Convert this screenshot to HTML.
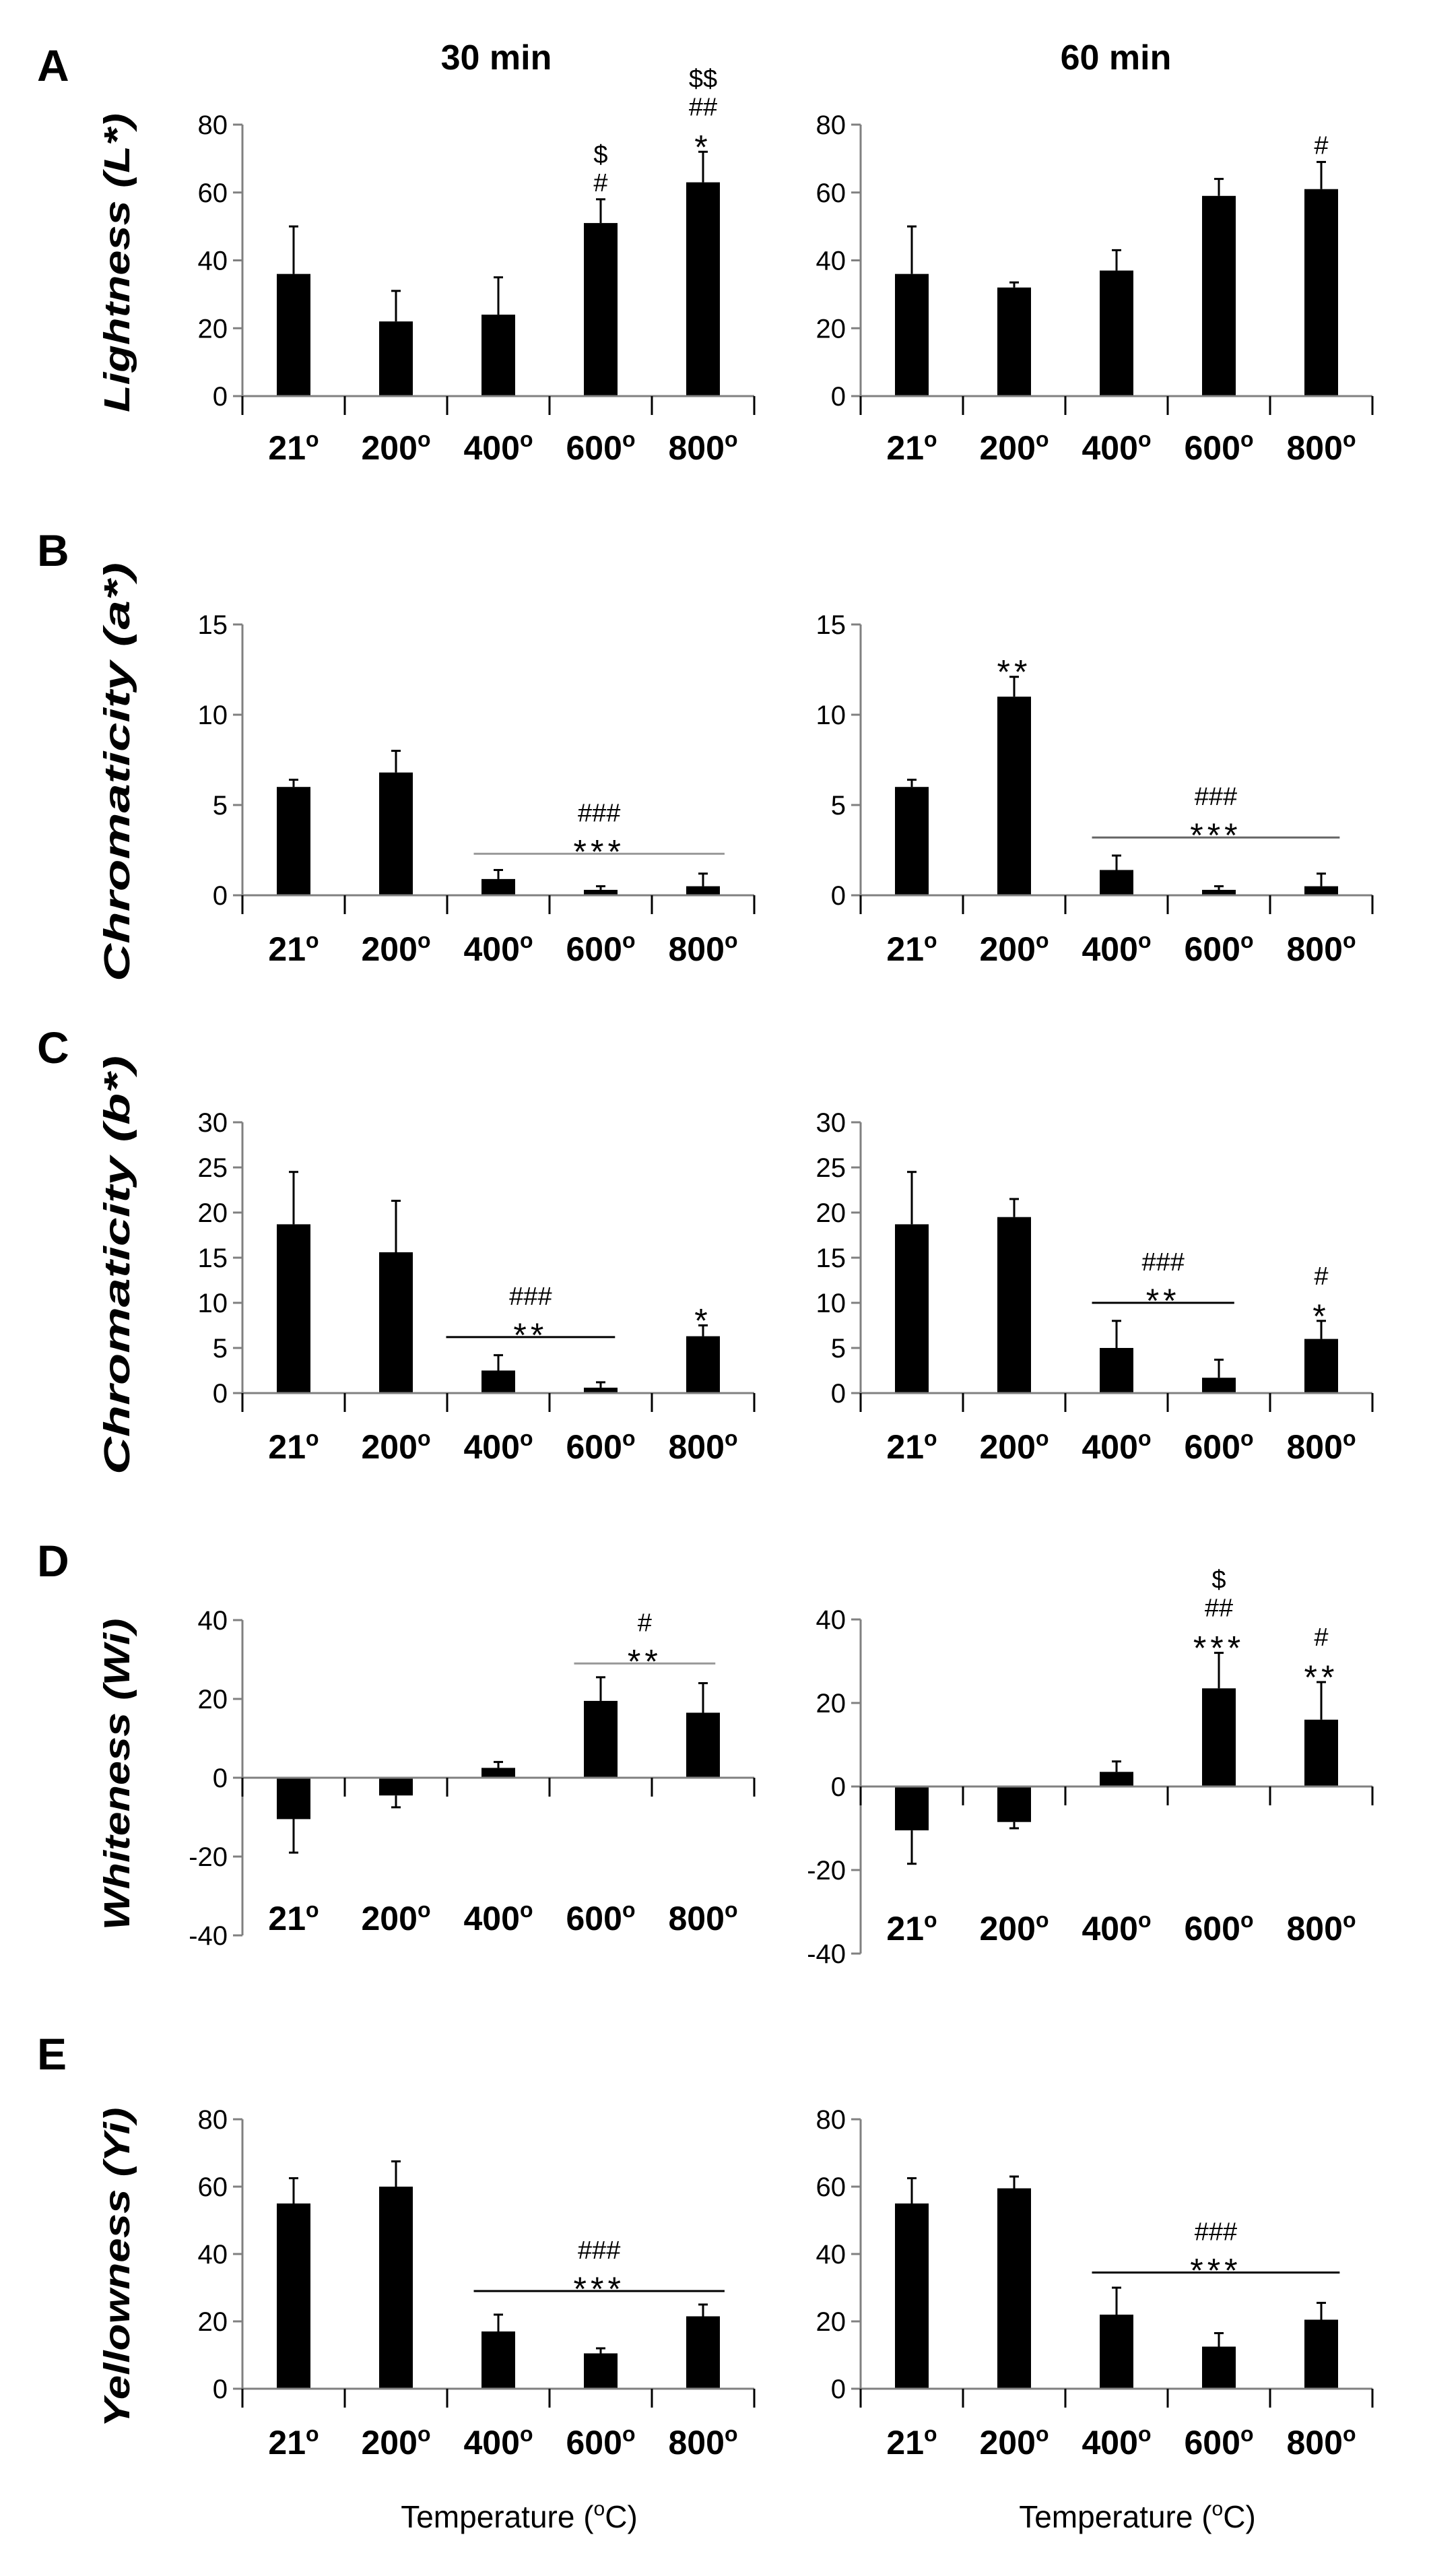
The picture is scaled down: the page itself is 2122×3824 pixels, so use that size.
<!DOCTYPE html>
<html><head><meta charset="utf-8"><title>Colour parameters vs temperature</title>
<style>
html,body{margin:0;padding:0;background:#fff;}
svg{display:block;}
text{font-family:"Liberation Sans",sans-serif;fill:#000;}
</style></head>
<body>
<svg id="fig" width="2122" height="3824" viewBox="0 0 2122 3824"></svg>
<script>
const categories = ["21","200","400","600","800"];
// Panel A
const aLeftVals = [36,22,24,51,63];
const aLeftErr = [50,31,35,58,72];
const aRightVals = [36,32,37,59,61];
const aRightErr = [50,33.5,43,64,69];
// Panel B
const bLeftVals = [6,6.8,0.9,0.3,0.5];
const bLeftErr = [6.4,8,1.4,0.5,1.2];
const bRightVals = [6,11,1.4,0.3,0.5];
const bRightErr = [6.4,12.1,2.2,0.5,1.2];
// Panel C
const cLeftVals = [18.7,15.6,2.5,0.6,6.3];
const cLeftErr = [24.5,21.3,4.2,1.2,7.5];
const cRightVals = [18.7,19.5,5,1.7,6];
const cRightErr = [24.5,21.5,8,3.7,8];
// Panel D
const dLeftVals = [-10.5,-4.5,2.5,19.5,16.5];
const dLeftErr = [-19,-7.5,4,25.5,24];
const dRightVals = [-10.5,-8.5,3.5,23.5,16];
const dRightErr = [-18.5,-10,6,32,25];
// Panel E
const eLeftVals = [55,60,17,10.5,21.5];
const eLeftErr = [62.5,67.5,22,12,25];
const eRightVals = [55,59.5,22,12.5,20.5];
const eRightErr = [62.5,63,30,16.5,25.5];
// tick labels
const ticksA = [0,20,40,60,80];
const ticksB = [0,5,10,15];
const ticksC = [0,5,10,15,20,25,30];
const ticksD = [-40,-20,0,20,40];
const ticksE = [0,20,40,60,80];

const NS="http://www.w3.org/2000/svg";
const svg=document.getElementById('fig');
function mk(tag,attrs,parent){const e=document.createElementNS(NS,tag);for(const k in attrs)e.setAttribute(k,attrs[k]);(parent||svg).appendChild(e);return e;}

function chart(o){
  const g=mk('g',{});
  
  
  const x0=o.x0, step=152, x1=x0+step*5;
  const y=v=>o.yZero-(v/o.unit)*o.pxPerUnit;
  const cx=i=>x0+step*(i+0.5);
  const ya=mk('line',{x1:x0,x2:x0,y1:y(o.ticks[o.ticks.length-1]),y2:y(o.ticks[0]),stroke:'#808080','stroke-width':3},g);
  
  
  o.ticks.forEach(t=>{
    mk('line',{x1:x0-14,x2:x0,y1:y(t),y2:y(t),stroke:'#808080','stroke-width':3},g);
    const tl=mk('text',{x:x0-22,y:y(t)+14,'text-anchor':'end','font-size':40},g);
    tl.textContent=t;
    
    
  });
  o.vals.forEach((v,i)=>{
    const c=cx(i);
    const top=Math.min(y(v),y(0)),h=Math.abs(y(v)-y(0));
    const b=mk('rect',{x:c-25,y:top,width:50,height:h,fill:'#000'},g);
    
    
    const e=o.err[i];
    const eb=mk('line',{x1:c,x2:c,y1:y(v),y2:y(e),stroke:'#000','stroke-width':3},g);
    
    
    mk('line',{x1:c-7,x2:c+7,y1:y(e),y2:y(e),stroke:'#000','stroke-width':3},g);
  });
  const xa=mk('line',{x1:x0,x2:x1,y1:y(0),y2:y(0),stroke:'#808080','stroke-width':3},g);
  
  
  for(let k=0;k<=5;k++) mk('line',{x1:x0+step*k,x2:x0+step*k,y1:y(0),y2:y(0)+28,stroke:'#000','stroke-width':3},g);
  categories.forEach((c,i)=>{
    const t=mk('text',{x:cx(i),y:o.labelY,'text-anchor':'middle','font-size':50,'font-weight':'bold'},g);
    
    
    const s1=mk('tspan',{},t); s1.textContent=c;
    const s2=mk('tspan',{'font-size':32,dy:-19},t); s2.textContent='o';
  });
  (o.ann||[]).forEach(a=>{
    let yy=y(o.err[a.i])-12;
    a.s.forEach(sym=>{
      const star=sym.indexOf('*')>=0;
      const t=mk('text',{x:cx(a.i),y:yy+(star?22:0),'text-anchor':'middle','font-size':star?50:38,'letter-spacing':star?6:0},g);
      t.textContent=sym;
      
      
      yy-=42;
    });
  });
  (o.lines||[]).forEach(L=>{
    const ly=y(L.v);
    const xa1=x0+step*L.from, xa2=x0+step*L.to;
    const ln=mk('line',{x1:xa1,x2:xa2,y1:ly,y2:ly,stroke:L.c||'#000','stroke-width':3},g);
    
    
    const mx=(xa1+xa2)/2;
    let yy=ly-8;
    L.s.forEach(sym=>{
      const star=sym.indexOf('*')>=0;
      const t=mk('text',{x:mx,y:yy+(star?22:0),'text-anchor':'middle','font-size':star?50:38,'letter-spacing':star?6:0},g);
      t.textContent=sym;
      
      
      yy-=40;
    });
  });
}
const L=360,R=1278;
chart({name:'chart-a-30min',x0:L,yZero:588,unit:20,pxPerUnit:(588-185)/4,ticks:ticksA,vals:aLeftVals,err:aLeftErr,labelY:682,
  ann:[{i:3,s:['#','$']},{i:4,s:['*','##','$$']}]});
chart({name:'chart-a-60min',x0:R,yZero:588,unit:20,pxPerUnit:(588-185)/4,ticks:ticksA,vals:aRightVals,err:aRightErr,labelY:682,
  ann:[{i:4,s:['#']}]});
chart({name:'chart-b-30min',x0:L,yZero:1329,unit:5,pxPerUnit:(1329-927)/3,ticks:ticksB,vals:bLeftVals,err:bLeftErr,labelY:1426,
  lines:[{v:2.3,from:2.26,to:4.71,c:'#999',s:['***','###']}]});
chart({name:'chart-b-60min',x0:R,yZero:1329,unit:5,pxPerUnit:(1329-927)/3,ticks:ticksB,vals:bRightVals,err:bRightErr,labelY:1426,
  ann:[{i:1,s:['**']}],lines:[{v:3.2,from:2.26,to:4.68,c:'#666',s:['***','###']}]});
chart({name:'chart-c-30min',x0:L,yZero:2068,unit:5,pxPerUnit:(2068-1666)/6,ticks:ticksC,vals:cLeftVals,err:cLeftErr,labelY:2165,
  ann:[{i:4,s:['*']}],lines:[{v:6.2,from:1.99,to:3.64,s:['**','###']}]});
chart({name:'chart-c-60min',x0:R,yZero:2068,unit:5,pxPerUnit:(2068-1666)/6,ticks:ticksC,vals:cRightVals,err:cRightErr,labelY:2165,
  ann:[{i:4,s:['*','#']}],lines:[{v:10,from:2.26,to:3.65,s:['**','###']}]});
chart({name:'chart-d-30min',x0:L,yZero:2639,unit:20,pxPerUnit:(2873-2405)/4,ticks:ticksD,vals:dLeftVals,err:dLeftErr,labelY:2865,
  lines:[{v:29,from:3.24,to:4.62,c:'#999',s:['**','#']}]});
chart({name:'chart-d-60min',x0:R,yZero:2652,unit:20,pxPerUnit:(2900-2404)/4,ticks:ticksD,vals:dRightVals,err:dRightErr,labelY:2880,
  ann:[{i:3,s:['***','##','$']},{i:4,s:['**','#']}]});
chart({name:'chart-e-30min',x0:L,yZero:3546,unit:20,pxPerUnit:(3546-3146)/4,ticks:ticksE,vals:eLeftVals,err:eLeftErr,labelY:3643,
  lines:[{v:29,from:2.26,to:4.71,s:['***','###']}]});
chart({name:'chart-e-60min',x0:R,yZero:3546,unit:20,pxPerUnit:(3546-3146)/4,ticks:ticksE,vals:eRightVals,err:eRightErr,labelY:3643,
  lines:[{v:34.5,from:2.26,to:4.68,s:['***','###']}]});

const titles=[['30 min',737,103,'title-30-min'],['60 min',1657,103,'title-60-min']];
titles.forEach(t=>{const e=mk('text',{x:t[1],y:t[2],'text-anchor':'middle','font-size':52,'font-weight':'bold'});e.textContent=t[0];
  
  });
[['A',120],['B',840],['C',1578],['D',2340],['E',3072]].forEach(p=>{const e=mk('text',{x:55,y:p[1],'font-size':66,'font-weight':'bold'});e.textContent=p[0];
  
  });
[['Lightness (L*)',390,444],['Chromaticity (a*)',1146,622],['Chromaticity (b*)',1878,622],['Whiteness (Wi)',2634,463],['Yellowness (Yi)',3366,475]].forEach(p=>{
  const e=mk('text',{x:0,y:0,'text-anchor':'middle','font-size':54,'font-weight':'bold','font-style':'italic',textLength:p[2],lengthAdjust:'spacingAndGlyphs',transform:'translate(192,'+p[1]+') rotate(-90)'});
  e.textContent=p[0];
  
  });
[[771],[1689]].forEach(p=>{
  const e=mk('text',{x:p[0],y:3752,'text-anchor':'middle','font-size':46});
  
  
  const a=mk('tspan',{},e);a.textContent='Temperature (';
  const b=mk('tspan',{'font-size':30,dy:-18},e);b.textContent='o';
  const c=mk('tspan',{dy:18},e);c.textContent='C)';
});
</script>
</body></html>
